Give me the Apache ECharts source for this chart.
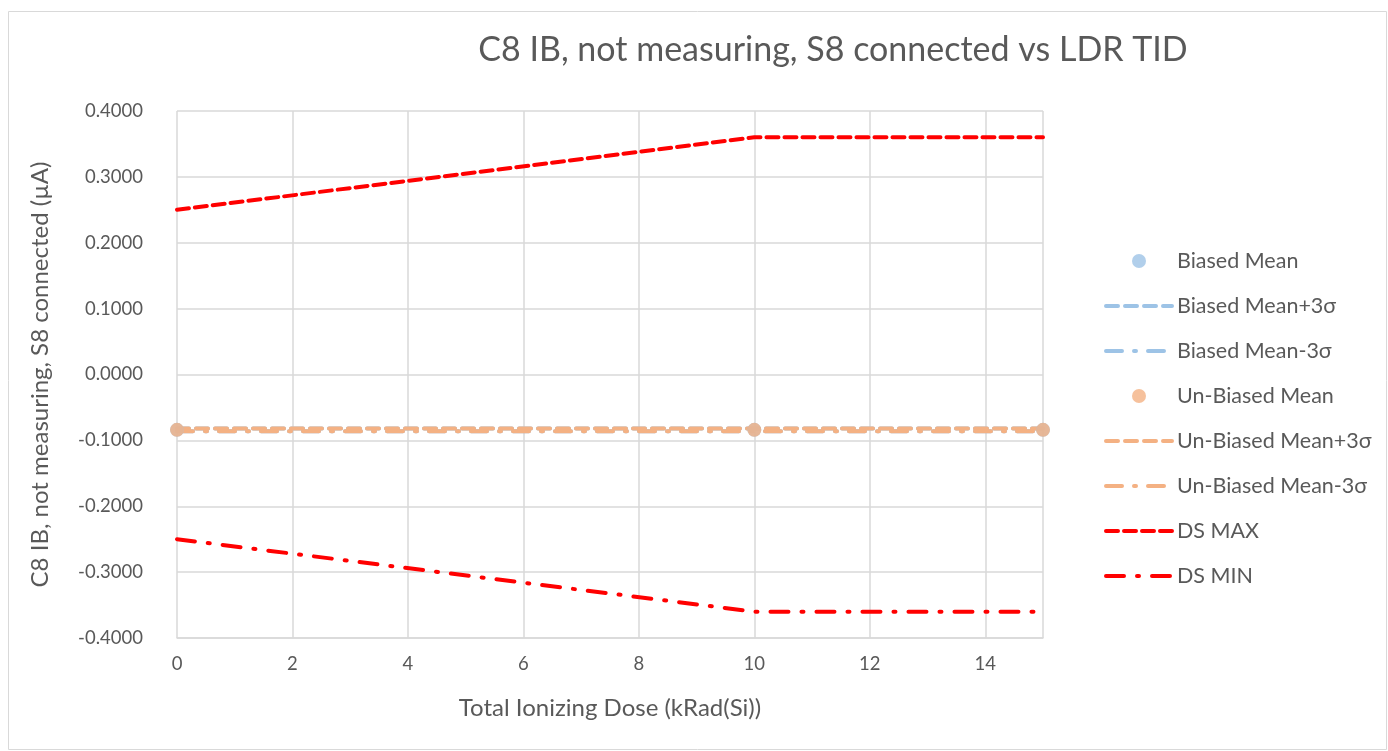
<!DOCTYPE html>
<html><head><meta charset="utf-8">
<script src="https://cdn.jsdelivr.net/npm/echarts@6/dist/echarts.min.js"></script>
<style>html,body{margin:0;padding:0;background:#fff}#c{width:1388px;height:751px}</style>
</head><body><div id="c"></div>
<script>
const doses = [0, 10, 15];
const biasedMean = [-0.084, -0.084, -0.084];
const biasedPlus = [-0.082, -0.082, -0.082];
const biasedMinus = [-0.086, -0.086, -0.086];
const unbiasedMean = [-0.084, -0.084, -0.084];
const unbiasedPlus = [-0.082, -0.082, -0.082];
const unbiasedMinus = [-0.086, -0.086, -0.086];
const dsMax = [0.25, 0.36, 0.36];
const dsMin = [-0.25, -0.36, -0.36];
const names = ['Biased Mean','Biased Mean+3σ','Biased Mean-3σ','Un-Biased Mean','Un-Biased Mean+3σ','Un-Biased Mean-3σ','DS MAX','DS MIN'];

const pair = a => doses.map((x,i)=>[x,a[i]]);
const BLUE='#9DC3E6', ORANGE='#F4B183', RED='#FF0000';
const FONT='Lato';
const DASH=[12,7], DASHDOT=[16,12,2,12], DSDASH=[12,6], DSDOT=[18,13,2,13];
function lineS(name, data, color, width, dash){
  return {name, type:'line', data:pair(data), symbol:'none', showSymbol:false,
    lineStyle:{color, width, type:dash, cap:'round'}, itemStyle:{color}, z:2, silent:true};
}
function scat(name, data, color){
  return {name, type:'scatter', data:pair(data), symbol:'circle', symbolSize:14,
    itemStyle:{color}, z:5};
}
function legLine(name, color, dash){
  return {name, itemStyle:{opacity:0},
    lineStyle:{color, width:4, type:dash, cap:'round', opacity:1}};
}
const chart = echarts.init(document.getElementById('c'), null, {renderer:'canvas'});
chart.setOption({
  animation:false,
  textStyle:{fontFamily:FONT},
  graphic:[{type:'rect', shape:{x:8.5,y:11.5,width:1378,height:738}, style:{fill:'none', stroke:'#d9d9d9', lineWidth:1}, silent:true}],
  title:{text:'C8 IB, not measuring, S8 connected vs LDR TID', left:828, top:28, textAlign:'center',
    textStyle:{fontFamily:FONT, fontSize:34, fontWeight:'normal', color:'#595959'}},
  grid:{left:177, right:345, top:111, bottom:113, containLabel:false},
  legend:{orient:'vertical', left:1099, top:245, itemWidth:66, itemHeight:14, itemGap:23,
    textStyle:{fontFamily:FONT, fontSize:21.5, color:'#595959'},
    data:[
      {name:names[0], icon:'circle'},
      legLine(names[1], BLUE, DASH),
      legLine(names[2], BLUE, DASHDOT),
      {name:names[3], icon:'circle'},
      legLine(names[4], ORANGE, DASH),
      legLine(names[5], ORANGE, DASHDOT),
      legLine(names[6], RED, DSDASH),
      legLine(names[7], RED, DSDOT)
    ]},
  xAxis:{type:'value', min:0, max:15, interval:2,
    name:'Total Ionizing Dose (kRad(Si))', nameLocation:'middle', nameGap:58,
    nameTextStyle:{fontFamily:FONT, fontSize:24, color:'#595959'},
    axisLine:{show:true, onZero:false, lineStyle:{color:'#d9d9d9', width:1.5}},
    axisTick:{show:false},
    axisLabel:{fontFamily:FONT, fontSize:18.5, color:'#595959', margin:17, showMaxLabel:false},
    splitLine:{show:true, lineStyle:{color:'#d9d9d9', width:1.5}}},
  yAxis:{type:'value', min:-0.4, max:0.4, interval:0.1,
    name:'C8 IB, not measuring, S8 connected (µA)', nameLocation:'middle', nameGap:125,
    nameTextStyle:{fontFamily:FONT, fontSize:24, color:'#595959'},
    axisLine:{show:false}, axisTick:{show:false},
    axisLabel:{fontFamily:FONT, fontSize:18.5, color:'#595959', margin:34, formatter:v=>v.toFixed(4)},
    splitLine:{show:true, lineStyle:{color:'#d9d9d9', width:1.5}}},
  series:[
    scat(names[0], biasedMean, BLUE),
    lineS(names[1], biasedPlus, BLUE, 4, DASH),
    lineS(names[2], biasedMinus, BLUE, 4, DASHDOT),
    scat(names[3], unbiasedMean, ORANGE),
    lineS(names[4], unbiasedPlus, ORANGE, 4, DASH),
    lineS(names[5], unbiasedMinus, ORANGE, 4, DASHDOT),
    lineS(names[6], dsMax, RED, 4, DSDASH),
    lineS(names[7], dsMin, RED, 4, DSDOT)
  ]
});
</script></body></html>
